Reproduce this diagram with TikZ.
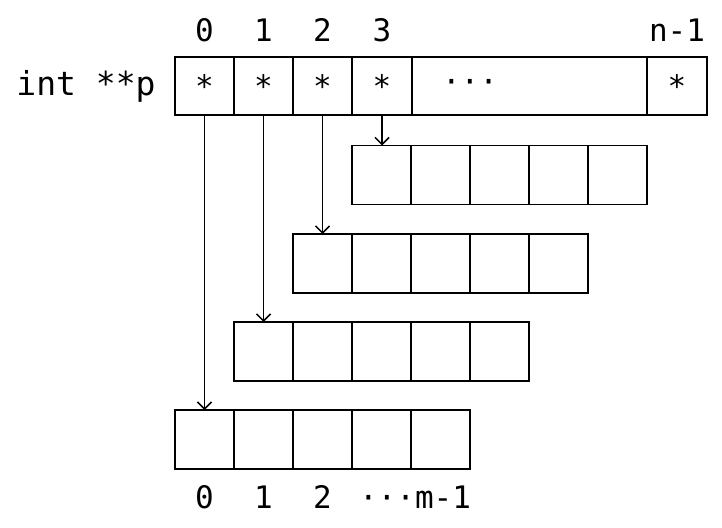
\documentclass[tikz,border=0pt]{standalone}
\usepackage{fontspec}
\newfontfamily\monofam{DejaVu Sans Mono}
\usetikzlibrary{arrows.meta}
\tikzset{
  cell/.style={draw, line width=1.8pt, minimum width=59pt, minimum height=59pt, inner sep=0pt, outer sep=0pt},
  lbl/.style={font=\monofam\fontsize{31}{36}\selectfont, inner sep=0pt},
  ptr/.style={line width=1.5pt, -{Straight Barb[length=7pt,width=14pt,line width=1.5pt]}},
}
\begin{document}
\begin{tikzpicture}[x=1pt,y=-1pt]
\useasboundingbox (0,0) rectangle (722,527);
% top pointer array
\node[cell, minimum height=58pt] (p0) at (204.5,86) {};
\node[cell, minimum height=58pt] (p1) at (263.5,86) {};
\node[cell, minimum height=58pt] (p2) at (322.5,86) {};
\node[cell, minimum height=58pt] (p3) at (382,86) {};
\node[cell, minimum height=58pt, minimum width=235pt] (pd) at (529.5,86) {};
\node[cell, minimum height=58pt, minimum width=60pt] (pn) at (677,86) {};
\foreach \n in {p0,p1,p2,p3,pn} \node[lbl] at (\n.center) {*};
\node[lbl] (dots) at (470,86) {···};
\node[lbl, font=\monofam\fontsize{33}{38}\selectfont] (name) at (86,86) {int **p};
% top index labels
\node[lbl] (t0) at (204.5,30) {0};
\node[lbl] (t1) at (263.5,30) {1};
\node[lbl] (t2) at (322.5,30) {2};
\node[lbl] (t3) at (382,30) {3};
\node[lbl] (tn) at (677,30) {n-1};
% rows
\foreach \k in {0,...,4} {
  \node[cell] (a\k) at (381.5+59*\k,175) {};
  \node[cell] (b\k) at (322.5+59*\k,263.5) {};
  \node[cell] (c\k) at (263.5+59*\k,351.5) {};
  \node[cell] (d\k) at (204.5+59*\k,439.5) {};
}
% pointers
\draw[ptr] (p3.south) -- (p3.south |- a0.north);
\draw[ptr] (p2.south) -- (p2.south |- b0.north);
\draw[ptr] (p1.south) -- (p1.south |- c0.north);
\draw[ptr] (p0.south) -- (p0.south |- d0.north);
% bottom index labels
\node[lbl] (s0) at (204.5,497) {0};
\node[lbl] (s1) at (263.5,497) {1};
\node[lbl] (s2) at (322.5,497) {2};
\node[lbl] (sm) at (415,497) {···m-1};
\end{tikzpicture}
\end{document}
